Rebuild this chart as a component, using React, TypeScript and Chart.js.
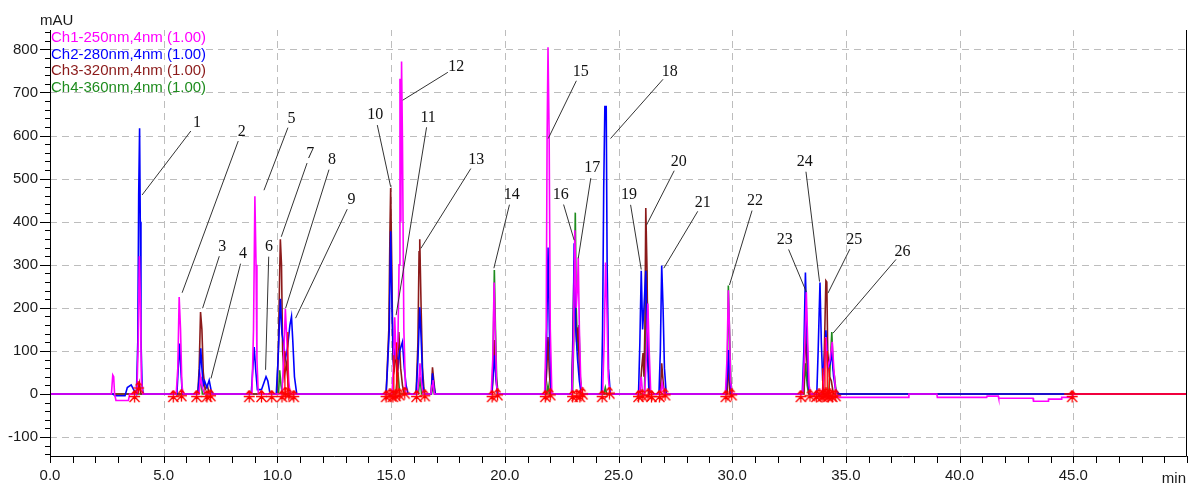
import React, { useEffect, useRef } from 'react';
import { Chart, registerables } from 'chart.js';

Chart.register(...registerables);

// ---------------- axis ranges / ticks ----------------
const X_MIN = 0;
const X_MAX = 50;
const Y_MIN = -144;
const Y_MAX = 845;
const X_MAJOR_STEP = 5;
const Y_MAJOR_STEP = 100;
const X_MINOR_STEP = 1;
const Y_MINOR_STEP = 20;
const Y_UNIT = 'mAU';
const X_UNIT = 'min';

// ---------------- channels ----------------
const channelNames = [
  'Ch1-250nm,4nm (1.00)',
  'Ch2-280nm,4nm (1.00)',
  'Ch3-320nm,4nm (1.00)',
  'Ch4-360nm,4nm (1.00)',
];
const channelColors = ['#FF00FF', '#0000FF', '#8B1A1A', '#1E8C1E'];

// Ch1 250 nm (time min, mAU)
const ch1Points: [number, number][] = [
  [0, 0], [2.7, 0], [2.76, 44], [2.8, 40], [2.84, 0], [2.9, -15], [3.45, -15], [3.5, 0],
  [3.82, 0], [3.88, 120], [3.93, 320], [3.98, 200], [4.02, 30], [4.08, 0],
  [5.55, 0], [5.62, 60], [5.68, 225], [5.74, 150], [5.8, 20], [5.86, 0],
  [6.55, 0], [6.62, 40], [6.7, 15], [6.8, 0],
  [8.88, 0], [8.95, 150], [9.01, 459], [9.06, 300], [9.1, 80], [9.16, 0],
  [10.2, 0], [10.28, 90], [10.35, 198], [10.42, 120], [10.5, 30], [10.56, 0],
  [15.04, 0], [15.1, 60], [15.16, 178], [15.22, 80], [15.3, 120], [15.35, 300], [15.39, 732], [15.43, 400], [15.46, 772], [15.5, 585], [15.56, 150], [15.64, 0],
  [16.15, 0], [16.22, 30], [16.27, 71], [16.33, 30], [16.4, 0],
  [16.75, 0], [16.8, 20], [16.84, 32], [16.9, 0],
  [19.4, 0], [19.47, 80], [19.53, 259], [19.58, 150], [19.64, 20], [19.7, 0],
  [21.75, 0], [21.82, 150], [21.86, 590], [21.9, 805], [21.95, 600], [22.0, 150], [22.07, 0],
  [22.95, 0], [23.02, 120], [23.08, 380], [23.14, 200], [23.2, 250], [23.23, 317], [23.28, 150], [23.34, 30], [23.4, 0],
  [24.3, 0], [24.37, 120], [24.43, 305], [24.49, 200], [24.55, 40], [24.62, 0],
  [25.92, 0], [26.0, 40], [26.06, 0],
  [26.15, 0], [26.22, 80], [26.29, 210], [26.35, 100], [26.42, 0],
  [26.85, 0], [26.92, 25], [27.0, 0],
  [29.7, 0], [29.77, 80], [29.83, 241], [29.88, 150], [29.93, 30], [30.0, 0],
  [33.1, 0], [33.17, 80], [33.26, 236], [33.32, 120], [33.38, 20], [33.45, 0],
  [33.95, 0], [34.05, 50], [34.12, 132], [34.2, 60], [34.3, 80], [34.4, 121], [34.48, 50], [34.56, 0],
  [34.7, -8], [37.75, -8], [37.77, 0], [39.0, 0], [39.02, -8], [41.19, -8], [41.21, -5], [41.7, -5],
  [41.72, -10], [43.23, -10], [43.25, -17], [43.89, -17], [43.91, -12], [44.47, -12], [44.49, -8], [44.98, -8], [45.0, 0], [50, 0],
];

// Ch2 280 nm
const ch2Points: [number, number][] = [
  [0, 0], [2.78, 0], [2.85, -4], [3.3, -4], [3.4, 15], [3.57, 21], [3.7, 8], [3.8, 0],
  [3.86, 120], [3.9, 460], [3.94, 617], [3.97, 400], [4.0, 130], [4.05, 20], [4.1, 0],
  [5.58, 0], [5.64, 60], [5.7, 117], [5.76, 50], [5.82, 0],
  [6.5, 0], [6.56, 40], [6.63, 106], [6.68, 60], [6.74, 20], [6.8, 30], [6.9, 15], [7.0, 32], [7.08, 10], [7.15, 0],
  [8.85, 0], [8.92, 60], [8.98, 109], [9.04, 60], [9.12, 10], [9.3, 10], [9.4, 25], [9.5, 40], [9.58, 30], [9.66, 5], [9.8, 0],
  [9.95, 0], [10.03, 80], [10.13, 221], [10.2, 140], [10.27, 120], [10.35, 80], [10.45, 110], [10.55, 160], [10.62, 180], [10.68, 120], [10.75, 40], [10.85, 0],
  [14.78, 0], [14.84, 60], [14.92, 150], [14.98, 378], [15.04, 200], [15.1, 80], [15.2, 110], [15.3, 60], [15.38, 100], [15.5, 121], [15.58, 60], [15.66, 20], [15.75, 0],
  [16.1, 0], [16.18, 80], [16.26, 201], [16.32, 130], [16.4, 20], [16.48, 0],
  [16.76, 0], [16.82, 48], [16.88, 20], [16.94, 0],
  [19.42, 0], [19.48, 40], [19.54, 90], [19.6, 40], [19.68, 0],
  [21.76, 0], [21.83, 100], [21.9, 340], [21.96, 150], [22.04, 0],
  [22.94, 0], [23.0, 120], [23.05, 350], [23.12, 150], [23.2, 80], [23.28, 30], [23.36, 0],
  [24.25, 0], [24.3, 150], [24.35, 478], [24.4, 667], [24.46, 667], [24.5, 300], [24.56, 60], [24.64, 0],
  [25.88, 0], [25.94, 120], [26.0, 286], [26.06, 150], [26.12, 200], [26.2, 286], [26.26, 120], [26.34, 0],
  [26.78, 0], [26.84, 100], [26.9, 298], [26.96, 200], [27.02, 60], [27.1, 0],
  [29.72, 0], [29.78, 40], [29.83, 102], [29.89, 40], [29.96, 0],
  [33.08, 0], [33.15, 100], [33.22, 282], [33.28, 150], [33.35, 20], [33.42, 0],
  [33.72, 0], [33.78, 100], [33.86, 259], [33.92, 120], [33.98, 30], [34.05, 80], [34.12, 148], [34.2, 60], [34.3, 70], [34.38, 94], [34.46, 40], [34.55, 10], [34.7, 0],
  [50, 0],
];

// Ch3 320 nm
const ch3Points: [number, number][] = [
  [0, 0], [3.85, 0], [3.93, 25], [4.0, 0],
  [6.5, 0], [6.56, 60], [6.62, 190], [6.68, 150], [6.74, 50], [6.82, 10], [6.92, 20], [7.0, 0],
  [9.98, 0], [10.05, 120], [10.1, 280], [10.13, 359], [10.18, 300], [10.23, 100], [10.3, 40], [10.4, 70], [10.48, 20], [10.56, 0],
  [14.78, 0], [14.83, 60], [14.9, 150], [14.95, 380], [14.98, 478], [15.03, 300], [15.08, 80], [15.14, 60], [15.2, 106], [15.26, 40], [15.34, 144], [15.42, 60], [15.5, 20], [15.58, 0],
  [16.1, 0], [16.18, 120], [16.23, 330], [16.26, 359], [16.32, 200], [16.38, 60], [16.46, 0],
  [16.76, 0], [16.82, 62], [16.88, 30], [16.94, 0],
  [19.44, 0], [19.5, 60], [19.54, 125], [19.6, 50], [19.68, 0],
  [21.78, 0], [21.85, 60], [21.9, 132], [21.95, 60], [22.02, 0],
  [22.94, 0], [23.0, 150], [23.05, 310], [23.1, 200], [23.16, 120], [23.22, 155], [23.28, 60], [23.36, 0],
  [25.94, 0], [26.02, 60], [26.08, 95], [26.12, 40], [26.16, 150], [26.2, 432], [26.25, 300], [26.3, 80], [26.38, 0],
  [26.84, 0], [26.9, 71], [26.96, 30], [27.02, 0],
  [29.78, 0], [29.83, 78], [29.9, 0],
  [33.15, 0], [33.22, 150], [33.3, 60], [33.38, 0],
  [34.0, 0], [34.06, 120], [34.12, 263], [34.16, 260], [34.2, 100], [34.28, 40], [34.36, 30], [34.45, 0],
  [50, 0],
];

// Ch4 360 nm
const ch4Points: [number, number][] = [
  [0, 0], [6.55, 0], [6.63, 40], [6.7, 0],
  [10.05, 0], [10.1, 55], [10.16, 20], [10.22, 0],
  [15.2, 0], [15.3, 50], [15.38, 0],
  [16.2, 0], [16.27, 40], [16.34, 0],
  [16.78, 0], [16.84, 20], [16.9, 0],
  [19.44, 0], [19.49, 100], [19.54, 288], [19.59, 150], [19.64, 40], [19.7, 0],
  [21.84, 0], [21.9, 20], [21.96, 0],
  [22.98, 0], [23.04, 150], [23.1, 421], [23.14, 200], [23.2, 100], [23.26, 160], [23.32, 40], [23.4, 0],
  [24.36, 0], [24.42, 15], [24.48, 0],
  [26.14, 0], [26.2, 150], [26.24, 288], [26.3, 100], [26.36, 0],
  [29.74, 0], [29.8, 100], [29.83, 252], [29.88, 150], [29.94, 30], [30.0, 0],
  [33.15, 0], [33.22, 71], [33.3, 20], [33.36, 0],
  [34.25, 0], [34.32, 80], [34.38, 144], [34.44, 60], [34.5, 40], [34.58, 0],
  [50, 0],
];

// integration drop lines (red) and red baseline at the end
const dropLineTimes = [10.33, 10.46, 15.12, 15.24, 15.3, 33.98, 34.08, 34.18, 34.27];
const dropLineHeights = [100, 144, 90, 120, 80, 60, 130, 100, 60];
const redBaselineStart = 44.6;

// integration markers (red arrows)
const markerTimes = [
  3.72, 3.9, 5.42, 5.78, 6.45, 6.9, 7.06, 8.76, 9.3, 9.75, 10.2, 10.35, 10.5, 10.72,
  14.78, 14.95, 15.08, 15.2, 15.36, 15.6, 16.12, 16.48, 19.44, 19.68, 21.78, 22.0,
  22.98, 23.16, 23.3, 23.42, 24.28, 24.6, 25.88, 26.04, 26.3, 26.45, 26.8, 27.05,
  29.72, 29.98, 33.02, 33.42, 33.7, 33.82, 33.95, 34.04, 34.12, 34.22, 34.3, 34.4, 34.55, 44.95,
];
const markerValues = [
  -6, 14, -6, -4, -6, -6, -4, -6, -6, -6, -6, 2, -2, -6,
  -6, -2, -6, -4, -2, 2, -6, -4, -6, -2, -6, -2,
  -6, -4, -6, 0, -6, 2, -6, -4, -2, -6, -6, -2,
  -6, -2, -6, -4, -6, -2, -6, -4, 0, -6, -2, -6, -4, -6,
];

// peak annotations: label, text position and leader tip (data units)
const peakLabels = ['1', '2', '3', '4', '5', '6', '7', '8', '9', '10', '11', '12', '13', '14', '15', '16', '17', '18', '19', '20', '21', '22', '23', '24', '25', '26'];
const labelT = [6.46, 8.43, 7.58, 8.49, 10.62, 9.63, 11.45, 12.4, 13.26, 14.3, 16.63, 17.87, 18.74, 20.31, 23.34, 22.46, 23.85, 27.25, 25.46, 27.65, 28.71, 31.0, 32.31, 33.19, 35.37, 37.49];
const labelV = [629, 609, 342, 325, 640, 342, 558, 543, 450, 647, 642, 759, 543, 462, 748, 462, 524, 748, 462, 539, 444, 448, 357, 539, 357, 330];
const tipT = [4.05, 5.81, 6.71, 7.08, 9.41, 9.48, 10.17, 10.36, 10.8, 14.98, 15.22, 15.51, 16.31, 19.52, 21.91, 23.05, 23.23, 24.65, 26.0, 26.23, 26.99, 29.88, 33.26, 33.84, 34.21, 34.43];
const tipV = [462, 235, 199, 36, 473, 56, 365, 199, 176, 481, 183, 682, 338, 292, 593, 357, 315, 593, 289, 392, 292, 253, 237, 261, 234, 141];

const SANS = '"Liberation Sans", Arial, sans-serif';
const SERIF = '"Liberation Serif", "Times New Roman", serif';
const GRID_COLOR = '#BDBDBD';
const NONE = 'rgba(0,0,0,0)';

function makeMarker(): HTMLCanvasElement {
  const c = document.createElement('canvas');
  c.width = 13;
  c.height = 13;
  const g = c.getContext('2d')!;
  g.strokeStyle = '#FF0000';
  g.lineWidth = 1.3;
  g.beginPath();
  g.moveTo(6.5, 0.5); g.lineTo(6.5, 12.5);
  g.moveTo(6.5, 0.5); g.lineTo(3.5, 4);
  g.moveTo(6.5, 0.5); g.lineTo(9.5, 4);
  g.moveTo(1, 6.5); g.lineTo(12, 6.5);
  g.moveTo(6.5, 6.5); g.lineTo(1.5, 12);
  g.moveTo(6.5, 6.5); g.lineTo(11.5, 12);
  g.stroke();
  return c;
}

const toXY = (pts: [number, number][]) => pts.map(([x, y]) => ({ x, y }));

export default function App() {
  const ref = useRef<HTMLCanvasElement | null>(null);

  useEffect(() => {
    if (!ref.current) return;
    const marker = makeMarker();

    const lineDs = (pts: [number, number][], color: string, order: number, width = 1.6) => ({
      type: 'line' as const,
      data: toXY(pts),
      borderColor: color,
      backgroundColor: color,
      borderWidth: width,
      pointRadius: 0,
      tension: 0,
      order,
    });

    const dropSets = dropLineTimes.map((t, i) =>
      lineDs([[t, 0], [t, dropLineHeights[i]]], '#FF0000', 1, 1.3)
    );
    const redBase = lineDs([[redBaselineStart, 0], [X_MAX, 0]], '#FF0000', 1, 1.6);

    const markerSet = {
      type: 'line' as const,
      data: markerTimes.map((t, i) => ({ x: t, y: markerValues[i] })),
      showLine: false,
      borderColor: NONE,
      backgroundColor: NONE,
      borderWidth: 0,
      pointStyle: marker as any,
      pointRadius: 6,
      pointBorderColor: NONE,
      pointBackgroundColor: NONE,
      order: 0,
    };

    const decor = {
      id: 'decor',
      beforeDatasetsDraw(chart: any) {
        const { ctx, chartArea: a, scales } = chart;
        const x = scales.x;
        const y = scales.y;
        ctx.save();
        ctx.strokeStyle = GRID_COLOR;
        ctx.lineWidth = 1;
        ctx.setLineDash([7, 5]);
        ctx.beginPath();
        for (let t = X_MIN + X_MAJOR_STEP; t < X_MAX; t += X_MAJOR_STEP) {
          const px = Math.round(x.getPixelForValue(t)) + 0.5;
          ctx.moveTo(px, a.bottom);
          ctx.lineTo(px, a.top);
        }
        for (let v = Math.ceil(Y_MIN / Y_MAJOR_STEP) * Y_MAJOR_STEP; v <= Y_MAX; v += Y_MAJOR_STEP) {
          if (v === 0) continue;
          const py = Math.round(y.getPixelForValue(v)) + 0.5;
          ctx.moveTo(a.left, py);
          ctx.lineTo(a.right, py);
        }
        ctx.stroke();
        ctx.restore();
      },
      afterDraw(chart: any) {
        const { ctx, chartArea: a, scales } = chart;
        const x = scales.x;
        const y = scales.y;
        ctx.save();
        // axis frame: left, bottom, right
        ctx.strokeStyle = '#000';
        ctx.lineWidth = 1;
        ctx.setLineDash([]);
        ctx.beginPath();
        ctx.moveTo(a.left + 0.5, a.top);
        ctx.lineTo(a.left + 0.5, a.bottom + 0.5);
        ctx.lineTo(a.right - 0.5, a.bottom + 0.5);
        ctx.lineTo(a.right - 0.5, a.top);
        ctx.stroke();
        // x ticks
        ctx.beginPath();
        for (let t = X_MIN; t <= X_MAX; t += X_MINOR_STEP) {
          const px = Math.round(x.getPixelForValue(t)) + 0.5;
          ctx.moveTo(px, a.bottom);
          ctx.lineTo(px, a.bottom + 7);
        }
        // y ticks
        for (let v = Math.ceil(Y_MIN / Y_MINOR_STEP) * Y_MINOR_STEP; v <= Y_MAX; v += Y_MINOR_STEP) {
          const py = Math.round(y.getPixelForValue(v)) + 0.5;
          const len = v % Y_MAJOR_STEP === 0 ? 10 : 5;
          ctx.moveTo(a.left - len, py);
          ctx.lineTo(a.left, py);
        }
        ctx.stroke();

        // unit labels
        ctx.fillStyle = '#1a1a1a';
        ctx.font = `15px ${SANS}`;
        ctx.textBaseline = 'middle';
        ctx.textAlign = 'left';
        ctx.fillText(Y_UNIT, a.left - 10, a.top - 9);
        ctx.textAlign = 'right';
        ctx.fillText(X_UNIT, a.right - 1, a.bottom + 23);

        // legend
        ctx.textAlign = 'left';
        channelNames.forEach((name, i) => {
          ctx.fillStyle = channelColors[i];
          ctx.fillText(name, a.left + 1, a.top + 8 + i * 16.5);
        });

        // peak annotations
        ctx.strokeStyle = '#333';
        ctx.lineWidth = 1;
        ctx.fillStyle = '#111';
        ctx.font = `16px ${SERIF}`;
        ctx.textAlign = 'center';
        peakLabels.forEach((lab, i) => {
          const tx = x.getPixelForValue(labelT[i]);
          const ty = y.getPixelForValue(labelV[i]);
          const px = x.getPixelForValue(tipT[i]);
          const py = y.getPixelForValue(tipV[i]);
          const dx = px - tx;
          const dy = py - ty;
          const d = Math.hypot(dx, dy) || 1;
          ctx.beginPath();
          ctx.moveTo(tx + (dx / d) * 10, ty + (dy / d) * 10);
          ctx.lineTo(px, py);
          ctx.stroke();
          ctx.fillText(lab, tx, ty);
        });
        ctx.restore();
      },
    };

    const chart = new Chart(ref.current, {
      type: 'line',
      data: {
        datasets: [
          markerSet as any,
          ...dropSets,
          redBase,
          lineDs(ch1Points, channelColors[0], 2),
          lineDs(ch2Points, channelColors[1], 3),
          lineDs(ch3Points, channelColors[2], 4),
          lineDs(ch4Points, channelColors[3], 5),
        ],
      },
      options: {
        responsive: false,
        animation: false,
        devicePixelRatio: 1,
        layout: { padding: { top: 30, right: 1, left: 0, bottom: 0 } },
        plugins: { legend: { display: false }, tooltip: { enabled: false } },
        elements: { line: { tension: 0 } },
        scales: {
          x: {
            type: 'linear',
            min: X_MIN,
            max: X_MAX,
            afterFit: (s: any) => { s.height = 30; },
            ticks: {
              stepSize: X_MAJOR_STEP,
              autoSkip: false,
              maxRotation: 0,
              padding: 4,
              font: { family: SANS, size: 15 },
              color: '#1a1a1a',
              callback: (v: any) => (Number(v) < X_MAX && Number(v) % X_MAJOR_STEP === 0 ? Number(v).toFixed(1) : ''),
            },
            grid: {
              color: NONE,
              drawTicks: true,
              tickLength: 7,
              tickColor: NONE,
            },
            border: { display: false },
          },
          y: {
            type: 'linear',
            min: Y_MIN,
            max: Y_MAX,
            afterFit: (s: any) => { s.width = 50; },
            ticks: {
              stepSize: Y_MAJOR_STEP,
              autoSkip: false,
              padding: 2,
              font: { family: SANS, size: 15 },
              color: '#1a1a1a',
              callback: (v: any) => (Number(v) % Y_MAJOR_STEP === 0 ? String(v) : ''),
            },
            grid: {
              color: NONE,
              drawTicks: true,
              tickLength: 10,
              tickColor: NONE,
            },
            border: { display: false },
          },
        },
      },
      plugins: [decor],
    });

    return () => chart.destroy();
  }, []);

  return (
    <div style={{ position: 'absolute', left: 0, top: 0, width: 1193, height: 486, background: '#fff' }}>
      <canvas ref={ref} width={1193} height={486} style={{ display: 'block', width: 1193, height: 486 }} />
    </div>
  );
}
